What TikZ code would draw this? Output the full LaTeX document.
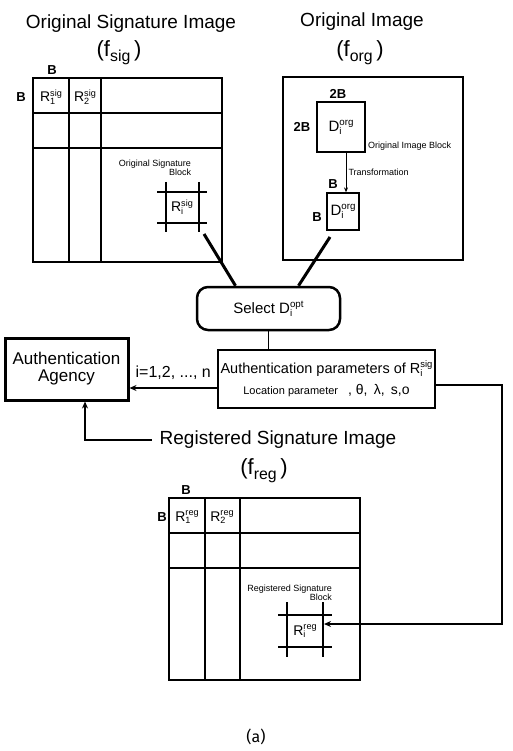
\documentclass[tikz,border=0pt]{standalone}
\usepackage{fontspec}
\setmainfont{Liberation Sans}
\newfontfamily\capfont{Fira Sans}
\usetikzlibrary{positioning,arrows.meta}
\newcommand{\fs}[1]{\fontsize{#1}{#1}\selectfont}
\newcommand{\ssub}[3]{#1\makebox[0pt][l]{\raisebox{-0.35ex}{\scalebox{0.65}{#2}}}\raisebox{0.8ex}{\scalebox{0.65}{#3}}}
\newcommand{\fimg}[1]{(f\raisebox{-0.45ex}{\scalebox{0.72}{#1}}\,)}
\tikzset{
title/.style={font=\fs{19}},
fname/.style={font=\fs{22}},
grid/.style={line width=1.3pt},
tag/.style={font=\fs{13}\bfseries, inner sep=0pt},
cell/.style={font=\fs{14}, inner sep=0pt},
tiny/.style={font=\fs{9}, align=right, inner sep=0pt},
feed/.style={line width=3pt},
block/.style={draw, line width=2pt, align=center, minimum width=217pt, minimum height=58pt, inner sep=0pt},
agent/.style={draw, line width=3pt, align=center, minimum width=123pt, minimum height=62pt, inner sep=0pt, font=\fs{17}},
choice/.style={draw, line width=2.5pt, rounded corners=11pt, minimum width=143pt, minimum height=43pt, font=\fs{15}},
arrow/.style={line width=1.6pt,-{Stealth[length=7pt,width=6pt]}}}

\begin{document}
\begin{tikzpicture}[x=1pt,y=-1pt]
\useasboundingbox (0,0) rectangle (512,751);

\node[title] (sigtitle) at (131,24) {Original Signature Image};
\node[fname] (signame) at (119,53) {\fimg{sig}};
\draw[grid] (33,78) rectangle (222,262) (69,78) -- (69,262) (101,78) -- (101,262) (33,113) -- (222,113) (33,148) -- (222,148);
\node[tag] (sigbx) at (52,70) {B};
\node[tag] (sigby) at (21,97) {B};
\node[cell] (sigone) at (51,97) {\ssub{R}{1}{sig}};
\node[cell] (sigtwo) at (85,97) {\ssub{R}{2}{sig}};
\node[tiny] (sigtext) at (155,168) {Original Signature\\Block};
\draw[grid] (157,192) -- (207,192) (157,223) -- (207,223) (166,182) -- (166,232) (199,182) -- (199,232);
\node[cell] (sigblk) at (182,207) {\ssub{R}{i}{sig}};
\coordinate (sigcorner) at (204,234);

\node[title] (orgtitle) at (362,22) {Original Image};
\node[fname] (orgname) at (360,53) {\fimg{org}};
\draw[grid] (283,77) rectangle (463,260);
\node[draw, grid, minimum width=48pt, minimum height=50pt, font=\fs{15}] (dbig) at (341,127) {\ssub{D}{i}{org}};
\node[tag] (bigbx) at (338,94) {2B};
\node[tag] (bigby) at (302,127) {2B};
\node[tiny, anchor=west] (orgtext) at (368,146) {Original Image Block};
\node[draw, grid, minimum width=32pt, minimum height=37pt, font=\fs{15}] (dsmall) at (343,211.5) {\ssub{D}{i}{org}};
\node[tag] (smallbx) at (333,184) {B};
\node[tag] (smallby) at (317,217) {B};
\coordinate (tx) at (346,0);
\draw[line width=1pt,-{Stealth[length=5pt,width=4pt]}] (dbig.south -| tx) -- node[tiny, right=2pt] {Transformation} (dsmall.north -| tx);
\coordinate (orgcorner) at (330,237);

\node[choice] (select) at (268.5,308.5) {Select \ssub{D}{i}{opt}\hspace{22pt}};
\draw[feed] (sigcorner) -- ([xshift=-33pt]select.north);
\draw[feed] (orgcorner) -- ([xshift=30pt]select.north);

\node[block] (auth) at (326.5,379) {{\fs{14.5}Authentication parameters of \ssub{R}{i}{sig}}\\[7pt]{\fs{11}Location parameter}\quad{\fs{14}, θ,\, λ,\, s,o}};
\draw[line width=1.5pt] (select.south) -- (select.south |- auth.north);

\node[agent] (agency) at (66.5,369) {Authentication\\Agency};
\coordinate (idx) at (0,388);
\draw[arrow] (auth.west |- idx) -- node[above=4pt, font=\fs{16}] {i=1,2, ..., n} (agency.east |- idx);

\node[title, inner sep=8pt] (regtitle) at (278,440) {Registered Signature Image};
\node[fname] (regname) at (264,471) {\fimg{reg}};
\coordinate (feedx) at (85,0);
\draw[arrow] (regtitle.west) -| (agency.south -| feedx);
\draw[grid] (169,498) rectangle (360,680) (205,498) -- (205,680) (240,498) -- (240,680) (169,533) -- (360,533) (169,568) -- (360,568);
\node[tag] (regbx) at (186,490) {B};
\node[tag] (regby) at (162,517) {B};
\node[cell] (regone) at (187,517) {\ssub{R}{1}{reg}};
\node[cell] (regtwo) at (222,517) {\ssub{R}{2}{reg}};
\node[tiny, anchor=east] (regtext) at (332,593) {Registered Signature\\Block};
\draw[grid] (278,615) -- (332,615) (278,647) -- (332,647) (287,602) -- (287,657) (323,602) -- (323,657);
\node[cell] (regblk) at (305,631) {\ssub{R}{i}{reg}};
\coordinate (regtip) at (324,624);
\coordinate (loop) at (502,385);
\draw[arrow] (auth.east |- loop) -- (loop) |- (regtip);

\node[font=\capfont\fs{16}] (caption) at (256,737) {(a)};
\end{tikzpicture}
\end{document}
